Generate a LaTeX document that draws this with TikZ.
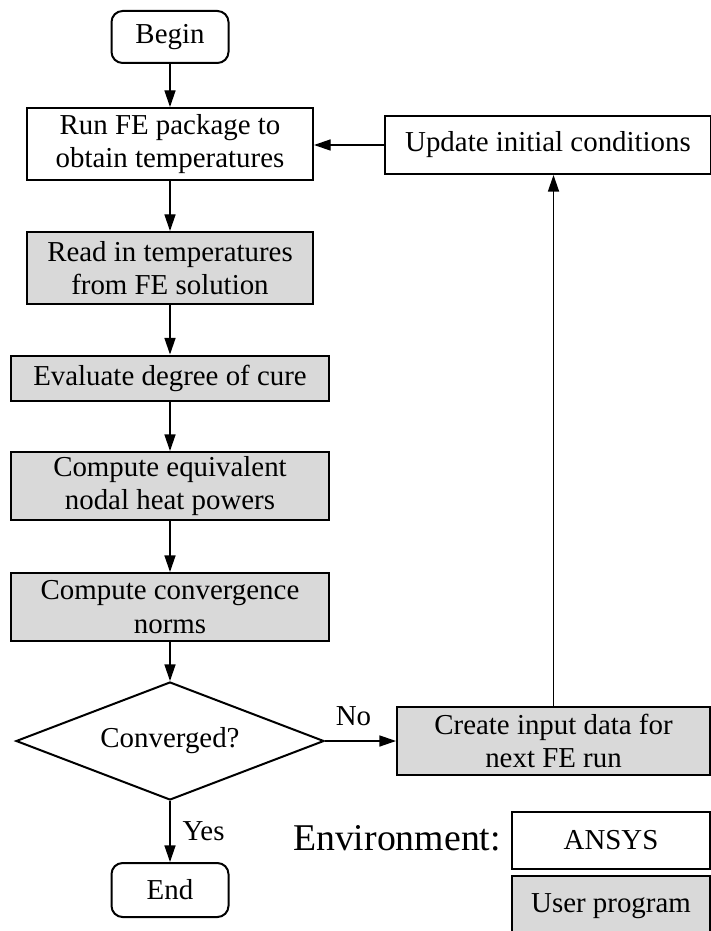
\documentclass[tikz,border=0pt]{standalone}
\usepackage{fontspec}
\setmainfont{Liberation Serif}
\usetikzlibrary{shapes.geometric,arrows.meta}
\begin{document}
\begin{tikzpicture}[x=0.45pt,y=-0.45pt,>={Triangle[length=7.5pt,width=5pt]},
  box/.style={draw,line width=0.9pt,align=center,inner sep=0pt,font=\fontsize{13}{15}\selectfont},
  ansys/.style={box,fill=white},
  user/.style={box,fill=gray!30},
  term/.style={box,rounded corners=5pt,minimum width=52.65pt,minimum height=23.4pt},
  decision/.style={box,diamond,aspect=2.6,minimum width=138.6pt,minimum height=53.1pt},
  link/.style={line width=0.6pt}]
 \useasboundingbox (0,0) rectangle (711,931);
 \node[term] (begin) at (170,37) {Begin};
 \node[ansys,minimum width=128.7pt,minimum height=32.4pt] (run) at (170,144) {Run FE package to\\obtain temperatures};
 \node[ansys,minimum width=146.7pt,minimum height=26.1pt] (update) at (548,145) {Update initial conditions};
 \node[user,minimum width=128.7pt,minimum height=32.4pt] (read) at (170,268) {Read in temperatures\\from FE solution};
 \node[user,minimum width=143.1pt,minimum height=20.25pt] (cure) at (170,378) {Evaluate degree of cure};
 \node[user,minimum width=143.1pt,minimum height=30.6pt] (heat) at (170,486) {Compute equivalent\\nodal heat powers};
 \node[user,minimum width=143.1pt,minimum height=30.6pt] (norms) at (170,607) {Compute convergence\\norms};
 \node[decision] (conv) at (170,741) {Converged?};
 \node[user,minimum width=140.85pt,minimum height=30.6pt] (input) at (553.5,741) {Create input data for\\next FE run};
 \node[term,minimum height=24.3pt] (end) at (170,890) {End};
 \node[font=\fontsize{17}{20}\selectfont] (env) at (397,838) {Environment:};
 \node[ansys,minimum width=89.1pt,minimum height=25.65pt] (kansys) at (611,840) {ANSYS};
 \node[user,minimum width=89.1pt,minimum height=27pt] (kuser) at (611,906) {User program};
 \draw[link,->] (begin) -- (run);
 \draw[link,->] (run) -- (read);
 \draw[link,->] (read) -- (cure);
 \draw[link,->] (cure) -- (heat);
 \draw[link,->] (heat) -- (norms);
 \draw[link,->] (norms) -- (conv);
 \draw[link,->] (conv) -- node[pos=0.4,above=3pt,font=\fontsize{13}{15}\selectfont] {No} (input);
 \draw[link,->] (conv) -- node[right=2pt,font=\fontsize{13}{15}\selectfont] {Yes} (end);
 \draw[link,->] (input.north) -- (input.north |- update.south);
 \draw[link,->] (update.west) -- (run.east |- update.west);
\end{tikzpicture}
\end{document}
